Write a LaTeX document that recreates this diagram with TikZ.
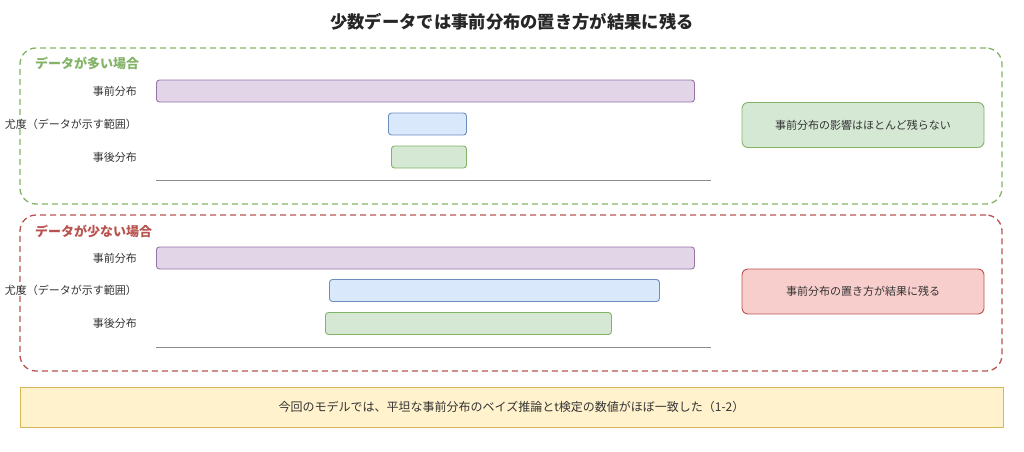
\documentclass[tikz,border=0pt]{standalone}
\usepackage{fontspec}
\setmainfont{Noto Sans CJK JP}
\definecolor{purfill}{HTML}{E1D5E7}
\definecolor{purline}{HTML}{9673A6}
\definecolor{bluefill}{HTML}{DAE8FC}
\definecolor{blueline}{HTML}{6C8EBF}
\definecolor{grnfill}{HTML}{D5E8D4}
\definecolor{grnline}{HTML}{82B366}
\definecolor{redfill}{HTML}{F8CECC}
\definecolor{redline}{HTML}{B85450}
\definecolor{yelfill}{HTML}{FFF2CC}
\definecolor{yelline}{HTML}{D6B656}
\definecolor{txt}{HTML}{333333}
\begin{document}
\begin{tikzpicture}[x=1pt,y=-1pt]
	\tikzstyle{frame} = [draw,dashed,dash pattern=on 6pt off 4pt,line width=1.3pt,rounded corners=16pt,minimum width=982pt,minimum height=156pt,inner sep=0pt]
	\tikzstyle{bar} = [draw,line width=0.9pt,rounded corners=3pt,minimum height=22pt,inner sep=0pt,anchor=west]
	\tikzstyle{note} = [draw,line width=0.9pt,rounded corners=6pt,minimum width=242pt,minimum height=45pt,inner sep=0pt,text=txt,font=\fontsize{11}{13}\selectfont]
	\tikzstyle{lbl} = [anchor=east,inner sep=0pt,text=txt,font=\fontsize{11}{13}\selectfont]
	\tikzstyle{head} = [anchor=west,inner sep=0pt,font=\bfseries\fontsize{13}{15}\selectfont]
	\useasboundingbox (0,0) rectangle (1024,451);
	\node[font=\bfseries\fontsize{17.3}{20}\selectfont,text=black!85](title)at (512,22){少数データでは事前分布の置き方が結果に残る};
	
	% データが多い場合
	\node[frame,draw=grnline](f-1)at (511,126){};
	\node[head,text=grnline](h-1)at (35,63){データが多い場合};
	\node[lbl](l-1-1)at (137,91){事前分布};
	\node[lbl](l-1-2)at (137,124){尤度（データが示す範囲）};
	\node[lbl](l-1-3)at (137,157){事後分布};
	\node[bar,fill=purfill,draw=purline,minimum width=538pt](b-1-1)at (156,91){};
	\node[bar,fill=bluefill,draw=blueline,minimum width=78pt](b-1-2)at (388,124){};
	\node[bar,fill=grnfill,draw=grnline,minimum width=75pt](b-1-3)at (391,157){};
	\draw[black!45,line width=0.9pt] (156,180) -- (711,180);
	\node[note,fill=grnfill,draw=grnline](n-1)at (863,125){事前分布の影響はほとんど残らない};
	
	% データが少ない場合
	\node[frame,draw=redline](f-2)at (511,293){};
	\node[head,text=redline](h-2)at (35,231){データが少ない場合};
	\node[lbl](l-2-1)at (137,258){事前分布};
	\node[lbl](l-2-2)at (137,290.5){尤度（データが示す範囲）};
	\node[lbl](l-2-3)at (137,323.5){事後分布};
	\node[bar,fill=purfill,draw=purline,minimum width=538pt](b-2-1)at (156,258){};
	\node[bar,fill=bluefill,draw=blueline,minimum width=330pt](b-2-2)at (329,290.5){};
	\node[bar,fill=grnfill,draw=grnline,minimum width=286pt](b-2-3)at (325,323.5){};
	\draw[black!45,line width=0.9pt] (156,347) -- (711,347);
	\node[note,fill=redfill,draw=redline](n-2)at (863,291.5){事前分布の置き方が結果に残る};
	
	\node[draw=yelline,fill=yelfill,line width=0.9pt,minimum width=983pt,minimum height=40pt,inner sep=0pt,text=txt,font=\fontsize{12}{14}\selectfont](sum)at (511.5,407){今回のモデルでは、平坦な事前分布のベイズ推論とt検定の数値がほぼ一致した（1-2）};
	
\end{tikzpicture}
\end{document}
